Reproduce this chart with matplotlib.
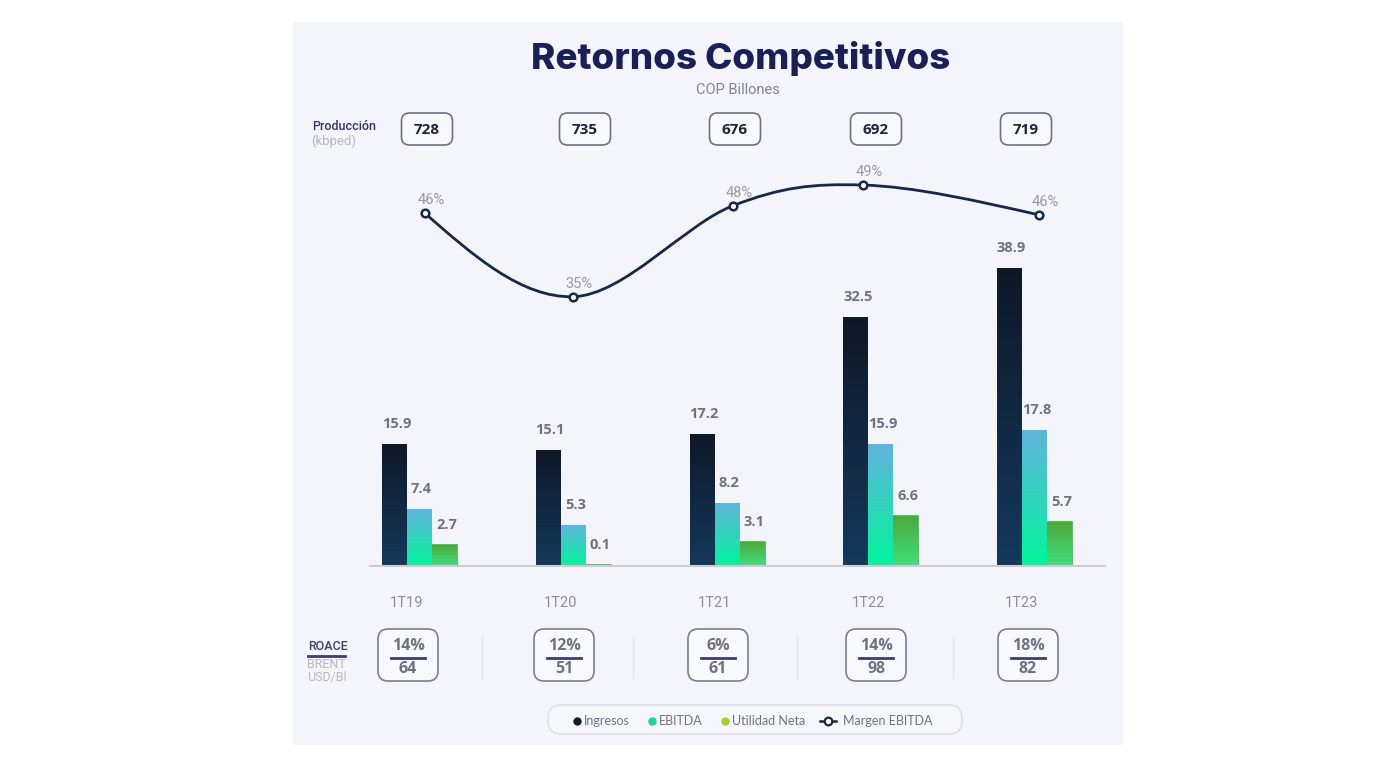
import numpy as np
import matplotlib.pyplot as plt
from matplotlib.path import Path
from matplotlib.patches import PathPatch, FancyBboxPatch
from matplotlib.colors import LinearSegmentedColormap

# datos
periodos = ['1T19', '1T20', '1T21', '1T22', '1T23']
ingresos = [15.9, 15.1, 17.2, 32.5, 38.9]
ebitda = [7.4, 5.3, 8.2, 15.9, 17.8]
utilidad = [2.7, 0.1, 3.1, 6.6, 5.7]
margen = [46, 35, 48, 49, 46]                  # etiquetas (%)
margen_nivel = [46.1, 35.2, 47.1, 49.8, 45.9]
produccion = [728, 735, 676, 692, 719]
roace = [14, 12, 6, 14, 18]
brent = [64, 51, 61, 98, 82]

W, H = 1384, 775
X0, STEP = 419.5, 153.75      # pixel of group 0 center, pixels between groups
PX_PER_UNIT = 7.65
BASE_Y = 566

fig = plt.figure(figsize=(W / 100, H / 100), dpi=100)
fig.patch.set_facecolor('white')

# main axes = the light panel
ax = fig.add_axes([293 / W, 1 - 745 / H, 830 / W, 723 / H])
ax.set_facecolor('#f3f5fa')
for s in ax.spines.values():
    s.set_visible(False)
ax.set_xticks([])
ax.set_yticks([])

x = np.arange(len(periodos))
w = 25 / STEP

series = [
    (ingresos, -w, '#14395c', '#0f1829', 'none'),
    (ebitda, 0, '#00f59b', '#62b4de', 'none'),
    (utilidad, w, '#3ee07d', '#4ea83a', '#3fb54e'),
]
grad = np.linspace(0, 1, 256).reshape(-1, 1)
for vals, off, c_bot, c_top, edge in series:
    bars = ax.bar(x + off, vals, w, color=c_top, edgecolor=edge,
                  linewidth=1.2 if edge != 'none' else 0, zorder=2)
    cmap = LinearSegmentedColormap.from_list('g', [c_bot, c_top])
    for b in bars:
        x0, y0, bw, bh = b.get_x(), b.get_y(), b.get_width(), b.get_height()
        im = ax.imshow(grad, cmap=cmap, extent=[x0, x0 + bw, y0, y0 + bh],
                       origin='lower', aspect='auto', zorder=2.1)
        im.set_clip_path(b)
    for xi, v in zip(x + off, vals):
        ax.annotate(f'{v}', (xi, v), xytext=(2, 20), textcoords='offset pixels',
                    ha='center', va='center', fontsize=10.5, fontweight='bold',
                    color='#6f7380', family='Open Sans', zorder=5)

ax.set_xlim((293 - X0) / STEP, (1123 - X0) / STEP)
ax.set_ylim(-(745 - BASE_Y) / PX_PER_UNIT, (BASE_Y - 22) / PX_PER_UNIT)

# linea base
ax.axhline(0, xmin=(370 - 293) / 830, xmax=(1105 - 293) / 830,
           color='#c9cdd6', lw=1.5, zorder=3)

# etiquetas de periodo
for xi, p in zip(x, periodos):
    ax.text(xi - w / 2, -(603 - BASE_Y) / PX_PER_UNIT, p, ha='center', va='center',
            fontsize=10.5, color='#8a8e99', family='Roboto')

# curva margen EBITDA (hermite suave)
margen_x = [0.036, 0.998, 2.039, 2.884, 4.029]
pts = np.column_stack([margen_x, margen_nivel]).astype(float)
n = len(pts)
tang = np.zeros_like(pts)
for i in range(1, n - 1):
    tang[i] = (pts[i + 1] - pts[i - 1]) / 2
tang[0] = (3 * (pts[1] - pts[0]) - tang[1]) / 2
tang[-1] = (3 * (pts[-1] - pts[-2]) - tang[-2]) / 2
verts = [pts[0]]
codes = [Path.MOVETO]
for i in range(n - 1):
    verts += [pts[i] + tang[i] / 3, pts[i + 1] - tang[i + 1] / 3, pts[i + 1]]
    codes += [Path.CURVE4] * 3
ax.add_patch(PathPatch(Path(verts, codes), fill=False, ec='#17274a', lw=2, zorder=3))
ax.plot(margen_x, margen_nivel, 'o', ms=5.5, mfc='white', mec='#17274a', mew=1.8, zorder=4)
for xi, yv, m in zip(margen_x, margen_nivel, margen):
    ax.annotate(f'{m}%', (xi, yv), xytext=(6, 13), textcoords='offset pixels',
                ha='center', va='center', fontsize=10.5, color='#979ba5',
                family='Roboto', zorder=5)

# capa en pixeles para cajas, textos y leyenda
ov = fig.add_axes([0, 0, 1, 1])
ov.set_xlim(0, W)
ov.set_ylim(H, 0)
ov.axis('off')
ov.patch.set_alpha(0)

fig.text(741 / W, 1 - 59 / H, 'Retornos Competitivos', ha='center', va='center',
         fontsize=26.5, fontweight='heavy', color='#1b1f57', family='Inter')
fig.text(738 / W, 1 - 90 / H, 'COP Billones', ha='center', va='center',
         fontsize=10.5, color='#80848f', family='Roboto')

# produccion
ov.text(312, 126, 'Producción', ha='left', va='center', fontsize=9,
        color='#2e3270', family='Roboto', fontweight='medium')
ov.text(311, 141, '(kbped)', ha='left', va='center', fontsize=9.5,
        color='#b5b8c1', family='Roboto')
prod_cx = [427, 585, 735, 876, 1026]
for cx, v in zip(prod_cx, produccion):
    ov.add_patch(FancyBboxPatch((cx - 25.5, 113), 51, 32,
                                boxstyle='round,pad=0,rounding_size=8',
                                fc='#f8f9fc', ec='#6d7182', lw=1.2))
    ov.text(cx, 129.5, str(v), ha='center', va='center', fontsize=11,
            fontweight='bold', color='#1d2433', family='Open Sans')

# ROACE / BRENT
ov.text(308, 647, 'ROACE', ha='left', va='center', fontsize=9,
        color='#3a3f6b', family='Roboto', fontweight='medium')
ov.plot([308, 345], [656, 656], color='#3a3f6b', lw=2)
ov.text(307, 665, 'BRENT', ha='left', va='center', fontsize=9, color='#b8bbc3',
        family='Roboto')
ov.text(307, 677, 'USD/Bl', ha='left', va='center', fontsize=9, color='#b8bbc3',
        family='Roboto')
roace_cx = [408, 564, 718, 876, 1028]
for cx, r, b in zip(roace_cx, roace, brent):
    ov.add_patch(FancyBboxPatch((cx - 30, 629), 60, 52,
                                boxstyle='round,pad=0,rounding_size=10',
                                fc='#f8f9fc', ec='#7a7e90', lw=1.2))
    ov.text(cx, 646, f'{r}%', ha='center', va='center', fontsize=11.5,
            fontweight='bold', color='#6e7282', family='Open Sans')
    ov.plot([cx - 17, cx + 17], [658, 658], color='#3a3f6b', lw=2)
    ov.text(cx, 669, str(b), ha='center', va='center', fontsize=11.5,
            fontweight='bold', color='#6e7282', family='Open Sans')
for sx in [482, 633, 797, 953]:
    ov.plot([sx, sx], [637, 678], color='#e1e3e9', lw=1)

# leyenda
ov.add_patch(FancyBboxPatch((548, 705), 414, 29, boxstyle='round,pad=0,rounding_size=13',
                            fc='#f6f7fb', ec='#d9dce4', lw=1))
items = [(577, '#101a2e', 'Ingresos'), (652, '#17d6a0', 'EBITDA'),
         (725, '#a6cf2b', 'Utilidad Neta')]
for lx, c, t in items:
    ov.plot(lx, 721, 'o', ms=5, color=c)
    ov.text(lx + 7, 721, t, ha='left', va='center', fontsize=9, color='#6f7380',
            family='Lato')
ov.plot([820, 836], [721, 721], color='#17274a', lw=1.8)
ov.plot(828, 721, 'o', ms=5.5, mfc='white', mec='#17274a', mew=1.6)
ov.text(843, 721, 'Margen EBITDA', ha='left', va='center', fontsize=9,
        color='#6f7380', family='Lato')

fig.savefig('out.png', dpi=100, facecolor='white')
